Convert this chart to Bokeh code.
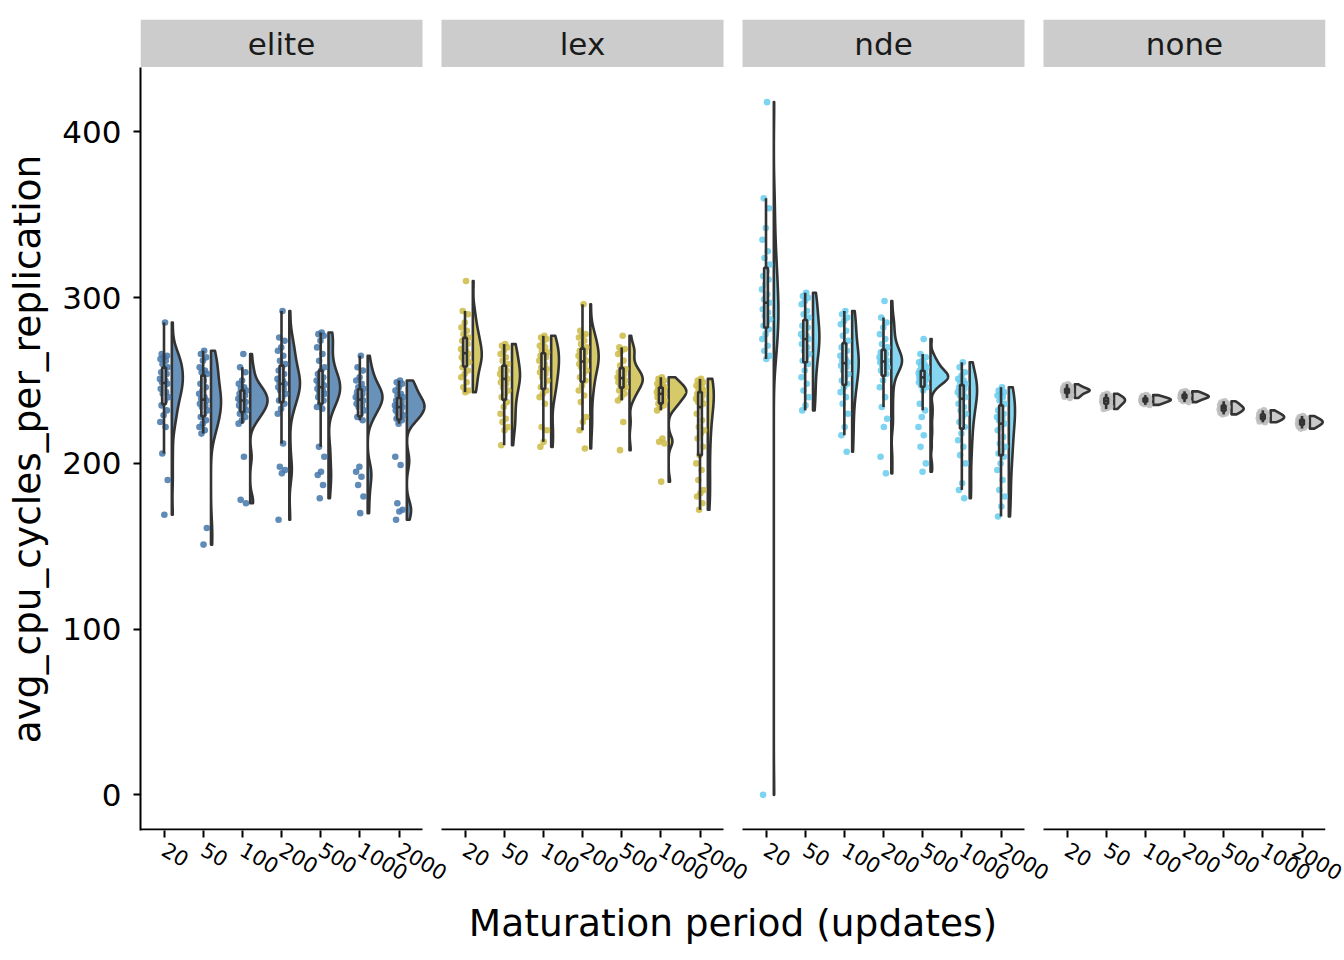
import math
import numpy as np
from bokeh.plotting import figure
from bokeh.models import Range1d, FixedTicker, CustomJSTickFormatter
from bokeh.layouts import column
from bokeh.core.properties import value
from bokeh.embed import file_html
from bokeh.resources import INLINE

# ---------------- data ----------------
methods = ["elite", "lex", "nde", "none"]
periods = ["20", "50", "100", "200", "500", "1000", "2000"]
colors = ["#4477AA", "#CCBB44", "#66CCEE", "#BBBBBB"]

elite_values = [
    [285, 266, 265, 264, 263, 262, 260, 258, 257, 255, 254, 252, 251, 250, 249, 248, 246, 245, 243, 242, 240, 238, 235, 232, 229, 225, 222, 206, 190, 169],
    [268, 266, 264, 262, 258, 256, 255, 254, 250, 248, 246, 244, 242, 240, 239, 238, 237, 236, 235, 234, 232, 230, 228, 226, 224, 222, 220, 218, 161, 151],
    [266, 258, 255, 250, 248, 246, 245, 244, 243, 242, 241, 240, 239, 238, 238, 237, 236, 235, 234, 233, 232, 231, 230, 228, 226, 224, 204, 178, 176],
    [292, 276, 274, 270, 268, 265, 262, 260, 258, 256, 254, 252, 251, 250, 249, 248, 247, 246, 245, 244, 242, 240, 238, 236, 233, 230, 212, 198, 196, 194, 166],
    [279, 278, 277, 274, 270, 266, 262, 258, 256, 254, 252, 251, 250, 249, 248, 247, 246, 245, 244, 243, 242, 241, 240, 238, 236, 234, 233, 210, 204, 195, 193, 187, 179],
    [265, 258, 256, 252, 250, 248, 246, 245, 244, 243, 242, 241, 240, 240, 239, 238, 237, 236, 235, 234, 232, 230, 228, 226, 198, 195, 192, 187, 180, 170],
    [250, 249, 248, 246, 244, 242, 241, 240, 239, 238, 237, 236, 235, 235, 234, 234, 233, 232, 231, 230, 229, 228, 227, 226, 224, 204, 199, 176, 172, 171, 166],
]
lex_values = [
    [310, 292, 290, 285, 282, 280, 278, 276, 275, 274, 272, 270, 269, 268, 267, 266, 265, 264, 263, 262, 261, 260, 258, 256, 254, 252, 249, 246, 244, 243],
    [272, 271, 270, 268, 266, 264, 262, 260, 258, 257, 256, 255, 254, 253, 252, 251, 250, 249, 248, 246, 244, 242, 240, 237, 234, 230, 227, 225, 222, 220, 211],
    [277, 276, 275, 273, 271, 270, 268, 267, 266, 265, 264, 263, 262, 260, 258, 257, 256, 255, 254, 252, 250, 248, 246, 244, 242, 240, 236, 222, 220, 213, 210],
    [296, 280, 278, 277, 276, 274, 272, 270, 269, 268, 267, 266, 265, 264, 263, 262, 261, 260, 259, 258, 256, 254, 252, 250, 247, 244, 241, 237, 228, 225, 220, 209],
    [277, 270, 269, 268, 266, 262, 259, 257, 256, 255, 254, 253, 252, 252, 251, 250, 250, 249, 248, 247, 246, 245, 244, 242, 240, 238, 225, 208],
    [252, 251, 250, 249, 248, 247, 246, 246, 245, 245, 244, 244, 243, 243, 242, 242, 241, 240, 240, 239, 238, 237, 236, 235, 234, 232, 215, 213, 212, 189],
    [251, 250, 249, 248, 247, 246, 245, 244, 243, 242, 241, 240, 239, 238, 237, 236, 234, 230, 226, 222, 220, 218, 215, 210, 205, 200, 196, 190, 184, 182, 180, 176, 172],
]
nde_values = [
    [418, 360, 354, 342, 335, 328, 324, 320, 316, 313, 311, 308, 305, 302, 299, 297, 295, 293, 291, 289, 287, 285, 283, 281, 278, 275, 271, 268, 265, 263, 0],
    [303, 301, 300, 298, 296, 292, 290, 288, 285, 283, 282, 280, 278, 277, 276, 275, 274, 272, 270, 268, 266, 264, 262, 260, 256, 252, 248, 244, 240, 235, 232],
    [292, 290, 288, 286, 284, 280, 277, 274, 272, 270, 268, 266, 265, 263, 262, 261, 260, 259, 258, 256, 254, 252, 250, 248, 246, 243, 240, 236, 230, 222, 217, 207],
    [298, 288, 285, 282, 278, 275, 272, 270, 268, 267, 266, 265, 264, 263, 262, 262, 261, 261, 260, 259, 258, 257, 256, 254, 250, 246, 240, 234, 227, 222, 204, 194],
    [275, 266, 264, 262, 261, 260, 259, 258, 257, 256, 255.5, 255, 254.5, 254, 253.5, 253, 252.5, 252.2, 252, 251.8, 251.5, 251, 250.5, 250, 249.5, 249, 248, 247, 246, 244, 236, 232, 228, 222, 217, 210, 200, 195],
    [261, 258, 255, 253, 251, 250, 249, 248, 247, 246, 245, 244, 243, 242, 241, 240, 238, 236, 234, 232, 230, 228, 225, 222, 218, 214, 210, 205, 200, 188, 184, 179],
    [246, 244, 243, 242, 241, 240, 238, 236, 234, 232, 230, 229, 228, 227, 226, 224, 222, 220, 216, 212, 210, 208, 206, 204, 200, 196, 190, 184, 180, 174, 168],
]
none_values = [
    [247.8, 247.0, 246.5, 246.0, 245.6, 245.3, 245.0, 244.8, 244.6, 244.4, 244.2, 244.0, 243.8, 243.6, 243.4, 243.2, 243.0, 242.6, 242.2, 241.8, 241.3, 240.8, 240.2, 239.5],
    [242.0, 241.3, 240.8, 240.3, 240.0, 239.6, 239.3, 239.0, 238.7, 238.4, 238.1, 237.8, 237.5, 237.2, 236.9, 236.6, 236.2, 235.8, 235.3, 234.8, 234.2, 233.5, 232.8],
    [241.2, 240.6, 240.2, 239.9, 239.6, 239.3, 239.1, 238.9, 238.7, 238.5, 238.3, 238.1, 237.9, 237.7, 237.5, 237.2, 236.9, 236.6, 236.2, 235.8, 235.3],
    [243.5, 243.0, 242.6, 242.2, 241.9, 241.6, 241.3, 241.0, 240.8, 240.6, 240.4, 240.2, 240.0, 239.8, 239.6, 239.3, 239.0, 238.6, 238.2, 237.7, 237.0],
    [237.5, 236.8, 236.2, 235.7, 235.2, 234.8, 234.4, 234.0, 233.7, 233.4, 233.1, 232.8, 232.5, 232.2, 231.9, 231.5, 231.1, 230.6, 230.1, 229.6],
    [232.0, 231.2, 230.6, 230.1, 229.7, 229.3, 229.0, 228.7, 228.4, 228.1, 227.8, 227.5, 227.2, 226.9, 226.6, 226.2, 225.8, 225.3, 224.8],
    [228.6, 228.0, 227.4, 226.9, 226.5, 226.2, 225.9, 225.6, 225.3, 225.0, 224.7, 224.4, 224.1, 223.8, 223.5, 223.1, 222.7, 222.2, 221.6, 221.0],
]
all_values = [elite_values, lex_values, nde_values, none_values]

x_title = "Maturation period (updates)"
y_title = "avg_cpu_cycles_per_replication"
y_ticks = [0, 100, 200, 300, 400]

# ---------------- layout constants ----------------
FONT = "DejaVu Sans"
DARK = "#333333"
LEFT = 140
RIGHT = 19
TOP = 19
FRAME_W = 1185
PANEL_GAP_PX = 19
PANEL_H = 762
STRIP_H = 48
n_cat = len(periods)
panel_units = n_cat - 1 + 2 * 0.6
px_per_unit = (FRAME_W - 3 * PANEL_GAP_PX) / (4 * panel_units)
gap_units = PANEL_GAP_PX / px_per_unit
panel_step = panel_units + gap_units
x_total = 4 * panel_units + 3 * gap_units

VIOLIN_NUDGE = 0.2
VIOLIN_W = 0.9
BOX_W = 0.095
JITTER = 0.11
LW = 2.6


def bw_nrd0(x):
    sd = np.std(x, ddof=1)
    q75, q25 = np.percentile(x, [75, 25])
    lo = min(sd, (q75 - q25) / 1.34)
    if lo <= 0:
        lo = sd if sd > 0 else 1.0
    return 0.9 * lo * len(x) ** -0.2


def kde(x, n=512):
    x = np.asarray(x, float)
    bw = bw_nrd0(x)
    grid = np.linspace(x.min(), x.max(), n)
    d = np.exp(-0.5 * ((grid[:, None] - x[None, :]) / bw) ** 2).sum(1) / (len(x) * bw * math.sqrt(2 * math.pi))
    return grid, d


flat = [v for m in all_values for g in m for v in g]
y_min, y_max = min(flat), max(flat)
y_lo = y_min - 0.05 * (y_max - y_min)
y_hi = y_max + 0.05 * (y_max - y_min)
ext = (y_hi - y_lo) / PANEL_H

# ---------------- main figure ----------------
p = figure(frame_width=FRAME_W, frame_height=PANEL_H + 1,
           x_range=Range1d(0, x_total), y_range=Range1d(y_lo - ext, y_hi),
           output_backend="svg", toolbar_location=None,
           min_border_left=LEFT, min_border_right=RIGHT, min_border_top=0)
p.grid.visible = False
p.outline_line_color = None
p.background_fill_color = "white"

tick_pos = []
tick_lab = []
for k, (m, vals, col) in enumerate(zip(methods, all_values, colors)):
    off = k * panel_step
    centers = [off + 0.6 + j for j in range(n_cat)]
    tick_pos += centers
    tick_lab += periods
    dens = [kde(g) for g in vals]
    maxd = max(d.max() for _, d in dens)
    xs, ys = [], []
    for c, (grid, d) in zip(centers, dens):
        x0 = c + VIOLIN_NUDGE
        xs.append(np.concatenate([[x0], x0 + VIOLIN_W / 2 * d / maxd, [x0]]))
        ys.append(np.concatenate([[grid[0]], grid, [grid[-1]]]))
    p.patches(xs=xs, ys=ys, fill_color=col, fill_alpha=0.8, line_color=DARK,
              line_width=LW, line_join="round")
    # jittered points
    px, py = [], []
    for c, g in zip(centers, vals):
        for i, v in enumerate(g):
            frac = ((i + 1) * 0.6180339887) % 1.0
            px.append(c + (frac - 0.5) * 2 * JITTER)
            py.append(v)
    p.scatter(px, py, size=6.6, fill_color=col, line_color=None, fill_alpha=0.85)
    # boxplots
    bl, br, bb, bt, med, wlo, whi = [], [], [], [], [], [], []
    for c, g in zip(centers, vals):
        a = np.asarray(g, float)
        q1, q2, q3 = np.percentile(a, [25, 50, 75])
        iqr = q3 - q1
        lo = a[a >= q1 - 1.5 * iqr].min()
        hi = a[a <= q3 + 1.5 * iqr].max()
        bl.append(c - BOX_W / 2); br.append(c + BOX_W / 2)
        bb.append(q1); bt.append(q3); med.append(q2); wlo.append(lo); whi.append(hi)
    p.segment(x0=centers, y0=bt, x1=centers, y1=whi, line_color=DARK, line_width=LW)
    p.segment(x0=centers, y0=bb, x1=centers, y1=wlo, line_color=DARK, line_width=LW)
    p.quad(left=bl, right=br, bottom=bb, top=bt, fill_color="white", fill_alpha=0.5,
           line_color=DARK, line_width=LW)
    p.segment(x0=bl, y0=med, x1=br, y1=med, line_color=DARK, line_width=LW)
    # panel x-axis line
    p.segment(x0=[off], y0=[y_lo], x1=[off + panel_units], y1=[y_lo], line_color="black", line_width=2)

# axes
xa = p.xaxis[0]
xa.ticker = FixedTicker(ticks=tick_pos, minor_ticks=[])
xa.formatter = CustomJSTickFormatter(args=dict(labels=tick_lab), code="return labels[index];")
xa.axis_line_color = None
xa.major_tick_line_color = "black"
xa.major_tick_line_width = 2
xa.major_tick_out = 7
xa.major_tick_in = 0
xa.minor_tick_line_color = None
xa.major_label_orientation = -math.pi / 6
xa.major_label_text_font = FONT
xa.major_label_text_font_size = "21px"
xa.major_label_text_color = "black"
xa.major_label_standoff = 10
xa.axis_label = x_title
xa.axis_label_text_font = FONT
xa.axis_label_text_font_size = "37.5px"
xa.axis_label_text_font_style = "normal"
xa.axis_label_text_color = "black"
xa.axis_label_standoff = 10

ya = p.yaxis[0]
ya.ticker = FixedTicker(ticks=y_ticks, minor_ticks=[])
ya.axis_line_color = "black"
ya.axis_line_width = 2
ya.major_tick_line_color = "black"
ya.major_tick_line_width = 2
ya.major_tick_out = 7
ya.major_tick_in = 0
ya.minor_tick_line_color = None
ya.major_label_text_font = FONT
ya.major_label_text_font_size = "31px"
ya.major_label_text_color = "black"
ya.major_label_standoff = 12
ya.axis_label = y_title
ya.axis_label_text_font = FONT
ya.axis_label_text_font_size = "37.5px"
ya.axis_label_text_font_style = "normal"
ya.axis_label_text_color = "black"
ya.axis_label_standoff = 10

# ---------------- strip figure ----------------
s = figure(frame_width=FRAME_W, frame_height=STRIP_H, x_range=p.x_range, y_range=Range1d(0, 1),
           output_backend="svg", toolbar_location=None, x_axis_location=None, y_axis_location=None,
           min_border_left=LEFT, min_border_right=RIGHT, min_border_top=TOP, min_border_bottom=0)
s.grid.visible = False
s.outline_line_color = None
offs = [k * panel_step for k in range(4)]
s.quad(left=offs, right=[o + panel_units for o in offs], bottom=[0] * 4, top=[1] * 4,
       fill_color="#CCCCCC", line_color=None)
s.text(x=[o + panel_units / 2 for o in offs], y=[0.5] * 4, text=methods, text_align="center",
       text_baseline="middle", text_font=value(FONT), text_font_size="31px", text_color="#1A1A1A")

layout = column(s, p, spacing=0)
open("out.html", "w").write(file_html(layout, INLINE))
